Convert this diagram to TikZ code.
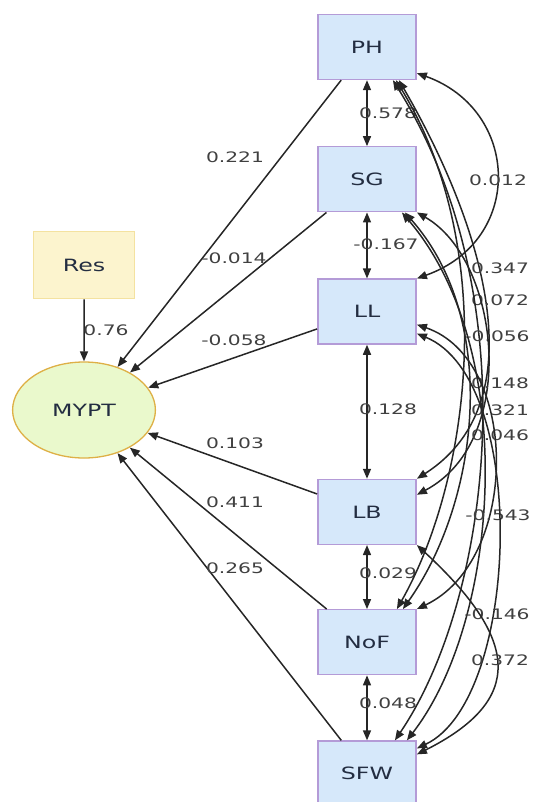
\documentclass[tikz,border=0pt]{standalone}
\usepackage{fontspec}
\setmainfont{DejaVu Sans}
\usetikzlibrary{positioning,shapes.geometric,arrows.meta}

\definecolor{varfill}{RGB}{214,232,250}
\definecolor{varline}{RGB}{180,155,215}
\definecolor{vartext}{RGB}{35,45,65}
\definecolor{resfill}{RGB}{252,244,206}
\definecolor{resline}{RGB}{244,226,160}
\definecolor{latfill}{RGB}{234,249,204}
\definecolor{latline}{RGB}{222,176,70}

\tikzset{
  obsvar/.style={draw=varline, fill=varfill, line width=1.3bp, minimum width=70bp,
    minimum height=65bp, xscale=1.4, font=\fontsize{17}{17}\selectfont, text=vartext},
  resvar/.style={obsvar, draw=resline, fill=resfill, minimum width=72bp, minimum height=67bp},
  latvar/.style={obsvar, ellipse, draw=latline, fill=latfill, minimum width=102bp, minimum height=96bp},
  coef/.style={font=\fontsize{14.5}{14.5}\selectfont, text=black!75, xscale=1.4, inner sep=0pt},
  reg/.style={-{Triangle[length=10bp,width=8bp]}, line width=1.5bp, black!85},
  cov/.style={{Triangle[length=10bp,width=8bp]}-{Triangle[length=10bp,width=8bp]}, line width=1.5bp, black!85}
}

\begin{document}
\begin{tikzpicture}[x=1bp, y=-1bp, node distance=66bp]
\useasboundingbox (0,0) rectangle (534,802);
\node[obsvar] (PH) at (367,47) {PH};
\node[obsvar, below=of PH] (SG) {SG};
\node[obsvar, below=of SG] (LL) {LL};
\node[obsvar, below=134bp of LL] (LB) {LB};
\node[obsvar, below=64bp of LB] (NoF) {NoF};
\node[obsvar, below=65bp of NoF] (SFW) {SFW};
\node[latvar] (MYPT) at (84,410) {MYPT};
\node[resvar, above=62bp of MYPT] (Res) {Res};
% regressions
\draw[reg] (Res) -- (MYPT) node[coef] at (106,330) {0.76};
\draw[reg] (PH) -- (MYPT) node[coef] at (235,157) {0.221};
\draw[reg] (SG) -- (MYPT) node[coef] at (234,258) {-0.014};
\draw[reg] (LL) -- (MYPT) node[coef] at (234,340) {-0.058};
\draw[reg] (LB) -- (MYPT) node[coef] at (235,443) {0.103};
\draw[reg] (NoF) -- (MYPT) node[coef] at (235,502) {0.411};
\draw[reg] (SFW) -- (MYPT) node[coef] at (235,568) {0.265};
% covariances
\draw[cov] (PH) -- (SG) node[coef] at (388,113) {0.578};
\draw[cov] (SG) -- (LL) node[coef] at (386,244) {-0.167};
\draw[cov] (LL) -- (LB) node[coef] at (388,409) {0.128};
\draw[cov] (LB) -- (NoF) node[coef] at (388,573) {0.029};
\draw[cov] (NoF) -- (SFW) node[coef] at (388,703) {0.048};
\draw[cov] ([yshift=7bp]PH.south east) .. controls (520,110) and (525,240) .. (LL.north east) node[coef] at (498,180) {0.012};
\draw[cov] ([xshift=-18bp]PH.south east) .. controls (480,220) and (540,400) .. (LB.north east) node[coef] at (500,268) {0.347};
\draw[cov] ([xshift=-21bp]PH.south east) .. controls (500,250) and (470,480) .. ([xshift=-20bp]NoF.north east) node[coef] at (500,300) {0.072};
\draw[cov] ([xshift=-24bp]PH.south east) .. controls (530,300) and (490,600) .. ([xshift=-22bp]SFW.north east) node[coef] at (497,336) {-0.056};
\draw[cov] (SG.south east) .. controls (500,260) and (520,440) .. ([yshift=-16bp]LB.north east) node[coef] at (500,383) {0.148};
\draw[cov] ([xshift=-12bp]SG.south east) .. controls (500,320) and (480,500) .. ([xshift=-14bp]NoF.north east) node[coef] at (500,410) {0.321};
\draw[cov] ([xshift=-15bp]SG.south east) .. controls (520,350) and (500,620) .. ([xshift=-10bp]SFW.north east) node[coef] at (500,435) {0.046};
\draw[cov] ([yshift=-13bp]LL.east) .. controls (520,360) and (520,560) .. (NoF.north east) node[coef] at (498,515) {-0.543};
\draw[cov] ([yshift=-22bp]LL.east) .. controls (530,380) and (520,700) .. ([yshift=-8bp]SFW.north east) node[coef] at (497,614) {-0.146};
\draw[cov] (LB.south east) .. controls (520,640) and (525,700) .. ([yshift=-14bp]SFW.north east) node[coef] at (500,660) {0.372};
\end{tikzpicture}
\end{document}
